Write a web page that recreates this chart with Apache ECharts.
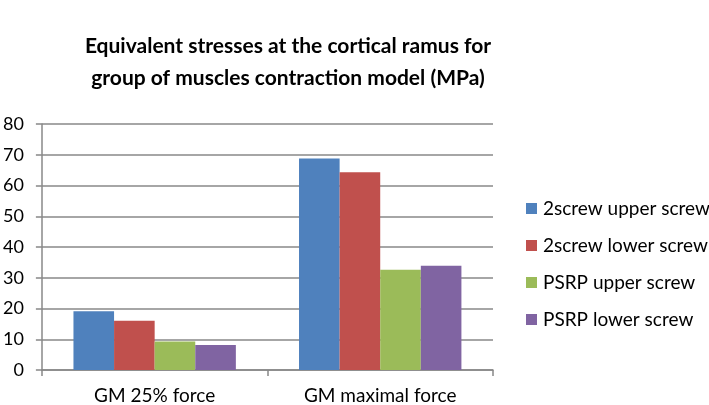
<!DOCTYPE html>
<html><head><meta charset="utf-8">
<script src="https://cdn.jsdelivr.net/npm/echarts@6/dist/echarts.min.js"></script>
<style>html,body{margin:0;padding:0;background:#fff}#c{width:709px;height:405px}</style>
</head><body><div id="c"></div>
<script>
const categories = ['GM 25% force', 'GM maximal force'];
const seriesNames = ['2screw upper screw', '2screw lower screw', 'PSRP upper screw', 'PSRP lower screw'];
const upper2 = [19.1, 68.8];
const lower2 = [16.0, 64.3];
const upperP = [9.3, 32.6];
const lowerP = [8.1, 33.9];
const colors = ['#4F81BD', '#C0504D', '#9BBB59', '#8064A2'];
const values = [upper2, lower2, upperP, lowerP];

const chart = echarts.init(document.getElementById('c'));
chart.setOption({
  animation: false,
  title: {
    text: 'Equivalent stresses at the cortical ramus for\ngroup of muscles contraction model (MPa)',
    left: 283, top: 25, textAlign: 'center',
    textStyle: {fontFamily: 'Lato', fontWeight: 'bold', fontSize: 21, lineHeight: 32, color: '#000'}
  },
  legend: {
    orient: 'vertical', left: 521, top: 194, itemGap: 18,
    itemWidth: 11, itemHeight: 11, icon: 'rect',
    textStyle: {fontFamily: 'Lato', fontSize: 19, color: '#000', padding: [0,0,0,1]},
    data: seriesNames
  },
  grid: {left: 39, right: 216, top: 124, bottom: 33},
  xAxis: {
    type: 'category', data: categories,
    axisLine: {lineStyle: {color: '#888', width: 1.5}},
    axisTick: {show: true, length: 6, lineStyle: {color: '#888', width: 1.5}},
    axisLabel: {fontFamily: 'Lato', fontSize: 19, color: '#000', margin: 16}
  },
  yAxis: {
    type: 'value', min: 0, max: 80, interval: 10,
    axisLine: {show: true, lineStyle: {color: '#888', width: 1.5}},
    axisTick: {show: true, length: 6, lineStyle: {color: '#888', width: 1.5}},
    splitLine: {lineStyle: {color: '#888', width: 1.5}},
    axisLabel: {fontFamily: 'Lato', fontSize: 18, color: '#000', margin: 18}
  },
  series: values.map((v, i) => ({
    name: seriesNames[i], type: 'bar', data: v,
    barGap: '0%', barCategoryGap: '28%',
    itemStyle: {color: colors[i]}
  }))
});
</script></body></html>
